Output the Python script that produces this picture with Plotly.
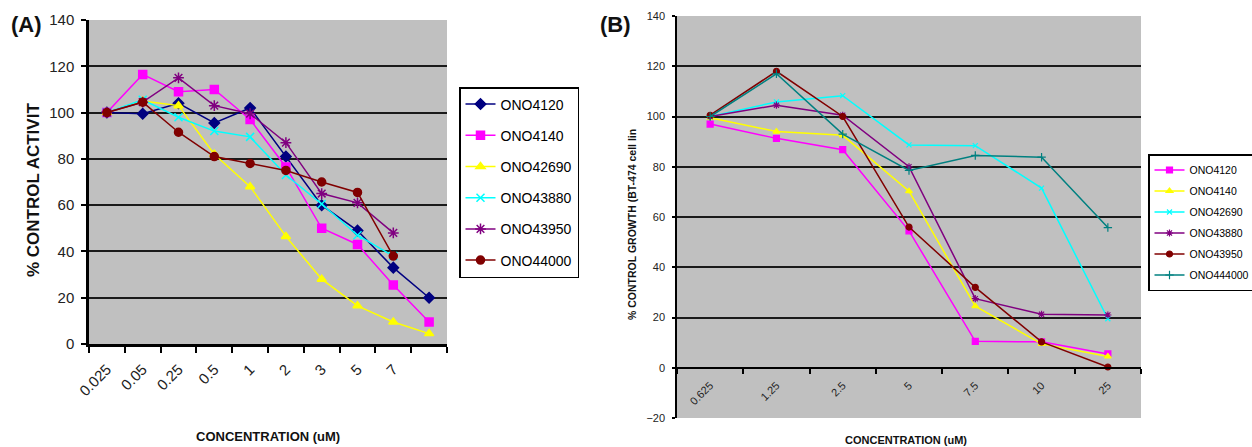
import plotly.graph_objects as go

FONT = "Liberation Sans, Arial, sans-serif"

# ---------------- Panel A data ----------------
conc_A = ["0.025", "0.05", "0.25", "0.5", "1", "2", "3", "5", "7", "10"]
tick_text_A = ["0.025", "0.05", "0.25", "0.5", "1", "2", "3", "5", "7", ""]
names_A = ["ONO4120", "ONO4140", "ONO42690", "ONO43880", "ONO43950", "ONO44000"]
ono4120_A = [100, 99.5, 104, 95.5, 102, 81, 60, 49, 33, 20]
ono4140_A = [100, 116.5, 109, 110, 97, 76.5, 50, 43, 25.5, 9.5]
ono42690_A = [100, 105, 103, 82, 68, 46.5, 28, 16.5, 9.5, 4.5]
ono43880_A = [100, 105.5, 98, 92, 89.5, 73, 60.5, 47, 38, None]
ono43950_A = [100, 104.5, 115, 103, 99.5, 87, 65, 61, 48, None]
ono44000_A = [100, 104.5, 91.5, 81, 78, 75, 70, 65.5, 38, None]
values_A = [ono4120_A, ono4140_A, ono42690_A, ono43880_A, ono43950_A, ono44000_A]
yticks_A = [0, 20, 40, 60, 80, 100, 120, 140]

# ---------------- Panel B data ----------------
conc_B = ["0.625", "1.25", "2.5", "5", "7.5", "10", "25"]
names_B = ["ONO4120", "ONO4140", "ONO42690", "ONO43880", "ONO43950", "ONO444000"]
ono4120_B = [97, 91.3, 86.8, 54.5, 10.5, 10.3, 5.5]
ono4140_B = [99.5, 94, 92.5, 70.3, 24.5, 9.5, 4.5]
ono42690_B = [100, 105.8, 108.3, 88.7, 88.4, 71.5, 19.5]
ono43880_B = [100, 104.5, 100.5, 80, 27.5, 21.3, 21]
ono43950_B = [100.5, 118, 100, 56, 32, 10.3, 0.3]
ono444000_B = [100, 117, 93, 78.5, 84.5, 83.8, 55.8]
values_B = [ono4120_B, ono4140_B, ono42690_B, ono43880_B, ono43950_B, ono444000_B]
yticks_B = [-20, 0, 20, 40, 60, 80, 100, 120, 140]

# ---------------- styles ----------------
styles_A = [
    dict(color="#000080", symbol="diamond", size=8),
    dict(color="#FF00FF", symbol="square", size=8),
    dict(color="#FFFF00", symbol="triangle-up", size=8),
    dict(color="#00FFFF", symbol="x-thin-open", size=8),
    dict(color="#800080", symbol="asterisk-open", size=9),
    dict(color="#800000", symbol="circle", size=8),
]
styles_B = [
    dict(color="#FF00FF", symbol="square", size=6),
    dict(color="#FFFF00", symbol="triangle-up", size=6),
    dict(color="#00FFFF", symbol="x-thin-open", size=5),
    dict(color="#800080", symbol="asterisk-open", size=6),
    dict(color="#800000", symbol="circle", size=6),
    dict(color="#008080", symbol="cross-thin-open", size=6),
]

W, H = 1252, 447


def fx(p):
    return p / W


def fy(p):
    return 1 - p / H


fig = go.Figure()

for i, (nm, vals, st) in enumerate(zip(names_A, values_A, styles_A)):
    fig.add_trace(go.Scatter(
        x=conc_A, y=vals, name=nm, mode="lines+markers",
        xaxis="x", yaxis="y", legend="legend", legendgroup=f"A{i}",
        line=dict(color=st["color"], width=1.5),
        marker=dict(color=st["color"], symbol=st["symbol"], size=st["size"],
                    line=dict(color=st["color"], width=1.5)),
        connectgaps=False,
    ))

for i, (nm, vals, st) in enumerate(zip(names_B, values_B, styles_B)):
    fig.add_trace(go.Scatter(
        x=conc_B, y=vals, name=nm, mode="lines+markers",
        xaxis="x2", yaxis="y2", legend="legend2", legendgroup=f"B{i}",
        line=dict(color=st["color"], width=1.5),
        marker=dict(color=st["color"], symbol=st["symbol"], size=st["size"],
                    line=dict(color=st["color"], width=1.2)),
    ))

yA_dom = [fy(344), fy(20)]
yB_dom = [fy(418), fy(16)]
yB_range = [-20, 140]
# position of category axis at y = 0 in panel B
pos_B = yB_dom[0] + (0 - yB_range[0]) / (yB_range[1] - yB_range[0]) * (yB_dom[1] - yB_dom[0])

grid_col = "#1a1a1a"
tick_col = "#222222"


def note(text, px, py, size, angle=0):
    return dict(text=text, x=fx(px), y=fy(py), xref="paper", yref="paper",
                xanchor="center", yanchor="middle", showarrow=False, textangle=angle,
                font=dict(size=size, color="#111111"))


fig.update_layout(
    width=W, height=H,
    margin=dict(l=0, r=0, t=0, b=0, autoexpand=False),
    paper_bgcolor="white",
    plot_bgcolor="#C0C0C0",
    font=dict(family=FONT, color="#111111"),
    showlegend=True,
    xaxis=dict(
        domain=[fx(89), fx(447)], anchor="y", type="category", automargin=False,
        categoryorder="array", categoryarray=conc_A,
        tickmode="array", tickvals=conc_A, ticktext=tick_text_A,
        tickson="boundaries", ticks="outside", ticklen=6, tickwidth=2, tickcolor="black",
        showline=True, linecolor="black", linewidth=2.5,
        tickangle=-45, tickfont=dict(size=15, color=tick_col), ticklabelstandoff=8,
        showgrid=False, range=[-0.5, 9.5], zeroline=False,
    ),
    yaxis=dict(
        domain=yA_dom, anchor="x", range=[0, 140], automargin=False,
        tickmode="array", tickvals=yticks_A,
        showgrid=True, gridcolor=grid_col, gridwidth=2,
        showline=True, linecolor="black", linewidth=2.5,
        ticks="outside", ticklen=5, tickwidth=2, tickcolor="black",
        tickfont=dict(size=15, color=tick_col), ticklabelstandoff=4,
        zeroline=False,
    ),
    xaxis2=dict(
        domain=[fx(677), fx(1141)], anchor="free", position=pos_B, type="category",
        automargin=False,
        categoryorder="array", categoryarray=conc_B,
        tickson="boundaries", ticks="outside", ticklen=5, tickwidth=1.5, tickcolor="black",
        showline=True, linecolor="black", linewidth=2,
        tickangle=-45, tickfont=dict(size=11, color=tick_col), ticklabelstandoff=6,
        showgrid=False, range=[-0.5, 6.5], zeroline=False,
    ),
    yaxis2=dict(
        domain=yB_dom, anchor="x2", range=yB_range, automargin=False,
        tickmode="array", tickvals=yticks_B,
        showgrid=True, gridcolor=grid_col, gridwidth=2,
        showline=True, linecolor="black", linewidth=1.5,
        ticks="outside", ticklen=3, tickwidth=1.5, tickcolor="black",
        tickfont=dict(size=11, color=tick_col), ticklabelstandoff=5,
        zeroline=False,
    ),
    legend=dict(
        x=fx(459), y=fy(87), xanchor="left", yanchor="top",
        bordercolor="black", borderwidth=1.5, bgcolor="white",
        font=dict(size=14, family=FONT, color="black"),
        tracegroupgap=10,
    ),
    legend2=dict(
        x=fx(1148), y=fy(154), xanchor="left", yanchor="top",
        bordercolor="black", borderwidth=1.5, bgcolor="white",
        font=dict(size=10.5, family=FONT, color="black"),
        tracegroupgap=2,
    ),
    annotations=[
        note("<b>(A)</b>", 26, 25, 22),
        note("<b>(B)</b>", 615, 25, 22),
        note("<b>% CONTROL ACTIVIT</b>", 33, 190, 17, -90),
        note("<b>% CONTROL GROWTH (BT-474 cell lin</b>", 632, 225, 10.5, -90),
        note("<b>CONCENTRATION (uM)</b>", 268, 436, 13),
        note("<b>CONCENTRATION (uM)</b>", 906, 440, 11),
    ],
)

fig.write_html(
    "out.html",
    config={"displayModeBar": False},
    post_script="document.body.style.margin='0';document.body.style.overflow='hidden';",
)
